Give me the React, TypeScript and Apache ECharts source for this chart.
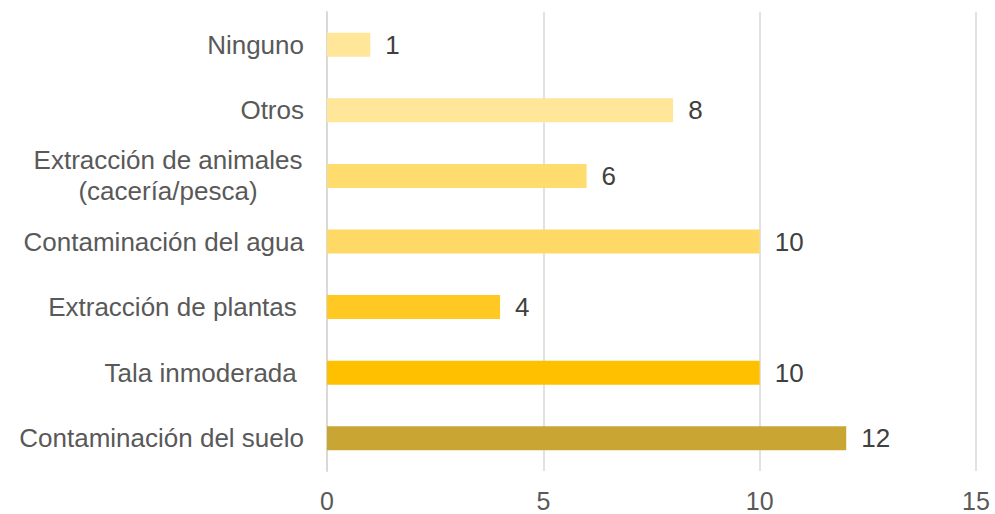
import React, { useEffect, useRef } from "react";
import * as echarts from "echarts";

const categories = [
  "Ninguno",
  "Otros",
  "Extracción de animales\n(cacería/pesca)",
  "Contaminación del agua",
  "Extracción de plantas ",
  "Tala inmoderada ",
  "Contaminación del suelo",
];
const values = [1, 8, 6, 10, 4, 10, 12];
const colors = ["#FFE699", "#FFE699", "#FFDC6E", "#FFD966", "#FFC823", "#FFC000", "#C9A633"];
const xTicks = [0, 5, 10, 15];

const FONT = "Liberation Sans, Arial, sans-serif";

export default function App() {
  const ref = useRef<HTMLDivElement>(null);
  useEffect(() => {
    if (!ref.current) return;
    const chart = echarts.init(ref.current, null, { renderer: "svg" });
    chart.setOption({
      animation: false,
      grid: { left: 327, right: 19, top: 12, bottom: 43, containLabel: false },
      xAxis: {
        type: "value",
        min: xTicks[0],
        max: xTicks[xTicks.length - 1],
        interval: 5,
        axisLine: { show: false },
        axisTick: { show: false },
        splitLine: { show: true, lineStyle: { color: "#D9D9D9", width: 1.5 } },
        axisLabel: {
          color: "#595959",
          fontSize: 25,
          fontFamily: FONT,
          margin: 17,
        },
      },
      yAxis: {
        type: "category",
        inverse: true,
        data: categories,
        axisLine: { show: true, lineStyle: { color: "#D9D9D9", width: 2 } },
        axisTick: { show: false },
        axisLabel: {
          color: "#595959",
          fontSize: 26,
          lineHeight: 31,
          fontFamily: FONT,
          margin: 23,
          align: "right",
          formatter: (v: string) =>
            v.includes("\n")
              ? v
                  .split("\n")
                  .map((l) => `{c|${l}}`)
                  .join("\n")
              : v,
          rich: {
            c: {
              width: 272,
              align: "center",
              color: "#595959",
              fontSize: 26,
              lineHeight: 31,
              fontFamily: FONT,
            },
          },
        },
      },
      series: [
        {
          type: "bar",
          barWidth: 24,
          data: values.map((v, i) => ({ value: v, itemStyle: { color: colors[i] } })),
          label: {
            show: true,
            position: "right",
            distance: 15,
            color: "#404040",
            fontSize: 26,
            fontFamily: FONT,
          },
        },
      ],
    });
    return () => chart.dispose();
  }, []);
  return <div ref={ref} style={{ width: 995, height: 514, position: "absolute", left: 0, top: 0 }} />;
}
